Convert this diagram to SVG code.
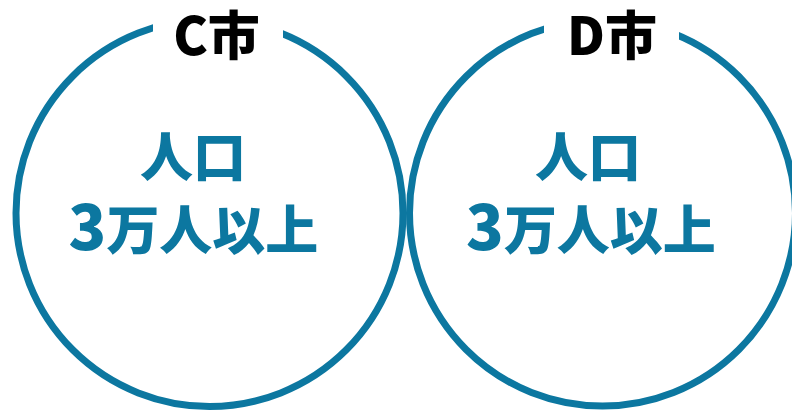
<svg xmlns="http://www.w3.org/2000/svg" width="792" height="411" viewBox="0 0 792 411">
<style>
.ring{fill:none;stroke:#0c77a0;stroke-width:7}
.gap{fill:#ffffff}
.title{font-family:"Noto Sans CJK JP","Noto Sans",sans-serif;font-weight:900;font-size:52px;fill:#000000;text-anchor:middle}
.body{font-family:"Noto Sans CJK JP","Noto Sans",sans-serif;font-weight:900;font-size:53px;fill:#0c77a0;text-anchor:middle}
.big{font-size:62px}
</style>
<rect width="792" height="411" fill="#ffffff"/>
<g id="city-c">
<circle class="ring" cx="209.5" cy="213" r="193.5"/>
<rect class="gap" x="153" y="0" width="130" height="60"/>
<text class="title" x="216.5" y="55">C市</text>
<text class="body" x="193" y="177">人口</text>
<text class="body" x="193.5" y="250"><tspan class="big">3</tspan>万人以上</text>
</g>
<g id="city-d">
<circle class="ring" cx="602.5" cy="213" r="193"/>
<rect class="gap" x="544" y="0" width="135" height="60"/>
<text class="title" x="612" y="55">D市</text>
<text class="body" x="588" y="177">人口</text>
<text class="body" x="591" y="250"><tspan class="big">3</tspan>万人以上</text>
</g>
</svg>
